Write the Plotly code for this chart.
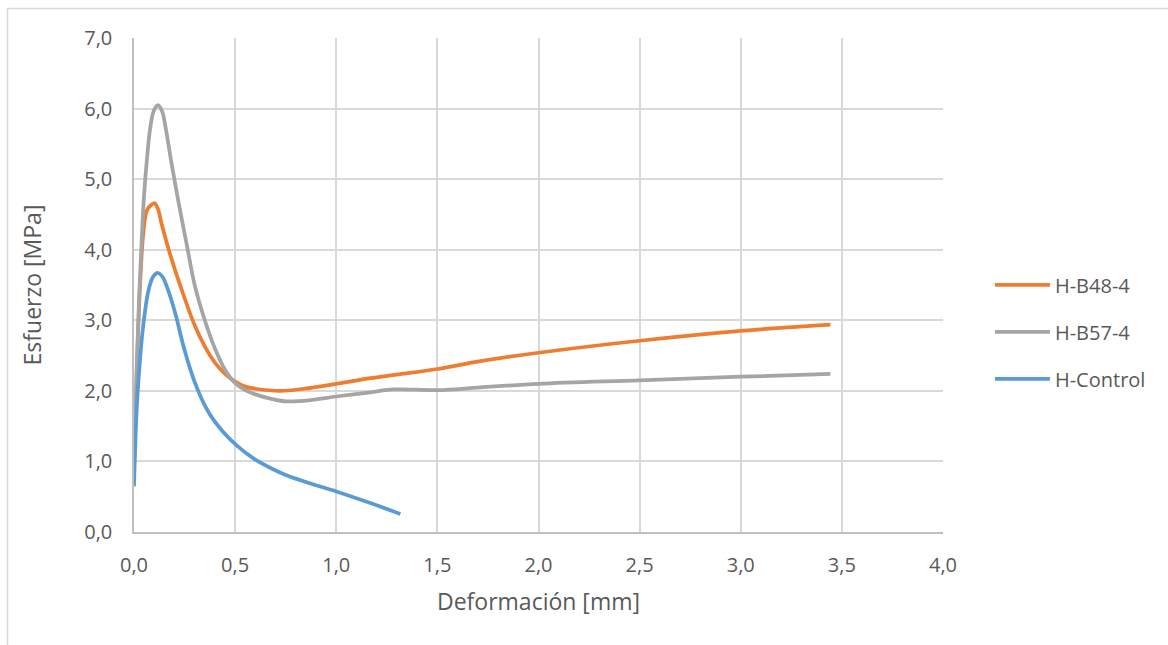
import plotly.graph_objects as go

# Load–deformation curves (deformation in mm, stress in MPa)
b48_x = [0.0, 0.015, 0.03, 0.045, 0.063, 0.083, 0.101, 0.118, 0.137, 0.179, 0.236, 0.30,
         0.35, 0.40, 0.45, 0.50, 0.55, 0.60, 0.724, 0.84, 1.0, 1.169, 1.3, 1.502, 1.713,
         2.0, 2.5, 3.0, 3.443]
b48_y = [0.9, 2.4, 3.5, 4.2, 4.55, 4.63, 4.66, 4.58, 4.36, 3.93, 3.43, 2.93,
         2.63, 2.40, 2.24, 2.13, 2.06, 2.03, 2.0, 2.03, 2.10, 2.18, 2.23, 2.31, 2.42,
         2.54, 2.71, 2.85, 2.94]

b57_x = [0.0, 0.012, 0.025, 0.039, 0.05, 0.063, 0.08, 0.098, 0.118, 0.138, 0.157, 0.184,
         0.217, 0.261, 0.30, 0.35, 0.40, 0.45, 0.50, 0.55, 0.60, 0.675, 0.757, 0.889, 1.0,
         1.169, 1.284, 1.502, 1.713, 2.0, 2.5, 3.0, 3.443]
b57_y = [0.9, 2.2, 3.3, 4.2, 4.78, 5.25, 5.72, 5.97, 6.05, 5.97, 5.72, 5.25,
         4.72, 4.07, 3.50, 3.00, 2.60, 2.30, 2.11, 2.01, 1.95, 1.89, 1.85, 1.875, 1.92,
         1.98, 2.02, 2.01, 2.05, 2.10, 2.15, 2.20, 2.24]

ctrl_x = [0.0, 0.014, 0.031, 0.047, 0.072, 0.095, 0.118, 0.14, 0.162, 0.204, 0.245,
          0.302, 0.368, 0.44, 0.51, 0.592, 0.68, 0.757, 0.88, 1.0, 1.169, 1.317]
ctrl_y = [0.65, 1.78, 2.49, 2.96, 3.43, 3.62, 3.67, 3.62, 3.48, 3.10, 2.63,
          2.11, 1.70, 1.42, 1.22, 1.04, 0.90, 0.80, 0.68, 0.575, 0.41, 0.255]

x_ticks = [0.0, 0.5, 1.0, 1.5, 2.0, 2.5, 3.0, 3.5, 4.0]
y_ticks = [0.0, 1.0, 2.0, 3.0, 4.0, 5.0, 6.0, 7.0]

series = [
    ("H-B48-4", b48_x, b48_y, "#ED7D31"),
    ("H-B57-4", b57_x, b57_y, "#A5A5A5"),
    ("H-Control", ctrl_x, ctrl_y, "#5B9BD5"),
]

FONT = "Open Sans"
TXT = "#595959"
GRID = "#D9D9D9"

fig = go.Figure()
for name, xs, ys, color in series:
    fig.add_trace(go.Scatter(
        x=xs, y=ys, name=name, mode="lines", legendgroup=name,
        line=dict(color=color, width=3.75, shape="spline", smoothing=1.0),
    ))

fig.update_layout(
    width=1168, height=645,
    margin=dict(l=133.5, r=225.3, t=38.3, b=112.7),
    paper_bgcolor="white", plot_bgcolor="white",
    separators=", ",
    font=dict(family=FONT, size=20, color=TXT),
    showlegend=True,
    legend=dict(
        x=1.058, y=0.405, xanchor="left", yanchor="middle",
        font=dict(family=FONT, size=20, color=TXT),
        tracegroupgap=18, bgcolor="rgba(0,0,0,0)", itemwidth=55,
    ),
    shapes=[dict(
        type="rect", xref="paper", yref="paper",
        x0=-0.1563, x1=1.4, y0=-0.4, y1=1.0595,
        line=dict(color=GRID, width=1.5), layer="below",
    )],
)

fig.update_xaxes(
    range=[0, 4], tickvals=x_ticks, tickformat=".1f",
    showgrid=True, gridcolor=GRID, gridwidth=1.5,
    showline=True, linecolor="#BFBFBF", linewidth=1.5,
    zeroline=False, ticks="", ticklabelstandoff=14,
    title=dict(text="Deformación [mm]", font=dict(family=FONT, size=23, color=TXT), standoff=17),
)
fig.update_yaxes(
    range=[0, 7], tickvals=y_ticks, tickformat=".1f",
    showgrid=True, gridcolor=GRID, gridwidth=1.5,
    showline=True, linecolor="#BFBFBF", linewidth=1.5,
    zeroline=False, ticks="", ticklabelstandoff=16,
    title=dict(text="Esfuerzo [MPa]", font=dict(family=FONT, size=23, color=TXT), standoff=36),
)

fig.write_html("out.html")
